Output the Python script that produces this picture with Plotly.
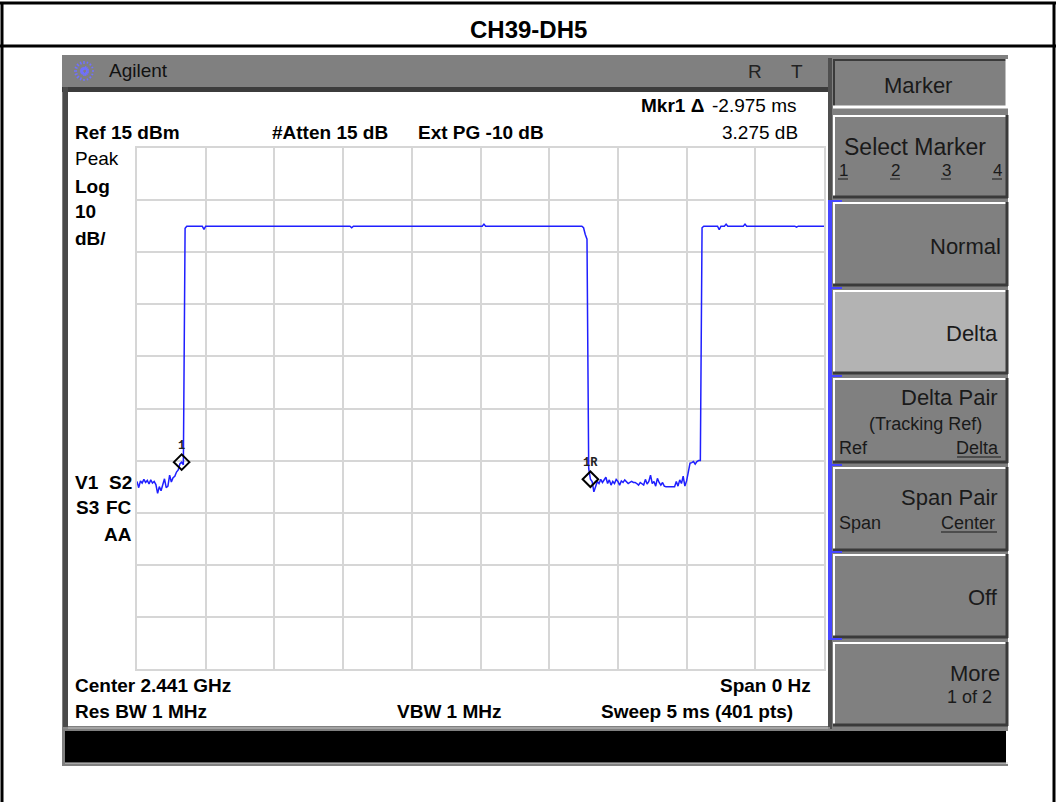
import plotly.graph_objects as go

# ---------------- data ----------------
SWEEP_MS = 5.0            # sweep time
N_PTS = 401               # sweep points
REF_DBM = 15              # reference level (top of graticule)
DB_PER_DIV = 10
N_DIV = 10
STEP_MS = SWEEP_MS / (N_PTS - 1)

# noise floor before the burst (sweep points 0..27)
noise1_start = 0
noise1_dbm = [-49.0, -50.2, -48.9, -49.3, -48.6, -49.2, -48.8, -49.5, -48.7, -49.3,
              -49.0, -49.6, -51.3, -50.0, -50.8, -49.8, -48.5, -50.2, -49.9, -47.8,
              -49.1, -48.3, -48.0, -47.2, -46.8, -45.6, -45.3, -45.8]

# first burst (flat top, ms / dBm)
top1_ms = [0.35, 0.3625, 0.475, 0.4875, 0.5, 1.55, 1.5625, 1.575, 2.5125, 2.525, 2.5375,
           3.2375, 3.25, 3.2625, 3.275, 3.2875]
top1_dbm = [-0.4, 0.0, 0.0, -0.6, 0.0, 0.0, -0.3, 0.0, 0.0, 0.4, 0.0,
            0.0, -0.3, -1.6, -2.5, -46.5]

# noise floor between bursts (sweep points 264..328)
noise2_start = 264
noise2_dbm = [-48.575, -49.0, -51.0, -50.0, -49.0, -49.4, -48.6, -49.2, -48.7, -48.2,
              -49.4, -48.7, -49.7, -49.0, -49.4, -48.6, -49.0, -49.7, -48.9, -49.2,
              -48.7, -49.0, -49.4, -49.2, -49.0, -49.2, -49.2, -49.4, -49.7, -49.2,
              -49.4, -49.7, -48.6, -49.5, -49.0, -47.8, -49.4, -49.0, -49.9, -48.4,
              -49.2, -49.7, -49.2, -49.9, -50.0, -50.0, -50.0, -49.9, -50.0, -50.0,
              -49.0, -49.9, -48.7, -49.4, -48.0, -49.9, -48.9, -47.1, -45.5, -45.4,
              -45.2, -45.7, -45.2, -45.0, -45.0]

# second burst (flat top)
top2_ms = [4.1125, 4.125, 4.225, 4.2375, 4.25, 4.275, 4.2875, 4.3, 4.4125, 4.425, 4.4375,
           4.7875, 4.8, 4.8125, 5.0]
top2_dbm = [-0.3, 0.0, 0.0, -0.7, 0.0, 0.0, 0.4, 0.0, 0.0, 0.4, 0.0,
            0.0, -0.2, 0.0, 0.0]

markers_ms = [0.325, 3.3]
markers_dbm = [-45.3, -48.575]
marker_labels = ["1", "1R"]

title_text = "CH39-DH5"
mkr_label = "Mkr1 Δ"
mkr_time = "-2.975 ms"
mkr_delta = "3.275 dB"
header_texts = ["Ref 15 dBm", "#Atten 15 dB", "Ext PG -10 dB"]
left_texts = ["Log", "10", "dB/"]
footer_left = ["Center 2.441 GHz", "Res BW 1 MHz"]
footer_mid = "VBW 1 MHz"
footer_right = ["Span 0 Hz", "Sweep 5 ms (401 pts)"]

# ---------------- build trace ----------------
t_all, v_all = [], []
for k, v in enumerate(noise1_dbm):
    t_all.append((noise1_start + k) * STEP_MS); v_all.append(v)
t_all += top1_ms; v_all += top1_dbm
for k, v in enumerate(noise2_dbm):
    t_all.append((noise2_start + k) * STEP_MS); v_all.append(v)
t_all += top2_ms; v_all += top2_dbm

W, H = 1056, 802
def px(x): return x / W
def py(y): return 1 - y / H

shapes = []
def rect(x0, y0, x1, y1, fill, line=None, lw=0):
    shapes.append(dict(type="rect", xref="paper", yref="paper", layer="below",
                       x0=px(x0), x1=px(x1), y0=py(y1), y1=py(y0),
                       fillcolor=fill, line=dict(color=line or fill, width=lw)))
def hline(x0, x1, y, color, w, dash="solid"):
    shapes.append(dict(type="line", xref="paper", yref="paper", layer="below",
                       x0=px(x0), x1=px(x1), y0=py(y), y1=py(y),
                       line=dict(color=color, width=w, dash=dash)))
def vline(x, y0, y1, color, w, dash="solid"):
    shapes.append(dict(type="line", xref="paper", yref="paper", layer="below",
                       x0=px(x), x1=px(x), y0=py(y0), y1=py(y1),
                       line=dict(color=color, width=w, dash=dash)))
def seg(x0, y0, x1, y1, color, w, dash="solid"):
    shapes.append(dict(type="line", xref="paper", yref="paper", layer="below",
                       x0=px(x0), x1=px(x1), y0=py(y0), y1=py(y1),
                       line=dict(color=color, width=w, dash=dash)))

# outer report frame
hline(0, 1056, 3, "black", 3)
hline(0, 1056, 46, "black", 3)
vline(2, 2, 802, "black", 3)
vline(1054, 2, 802, "black", 3)

# instrument body
GRAY = "#808080"
rect(62, 55, 1008, 766, GRAY)
rect(62, 87, 830, 92, "#3c3c3c")
rect(63, 87, 68, 729, "#4a4a4a")
rect(68, 92, 828, 726, "white")
rect(828, 58, 832, 729, "#4f4f4f")
hline(63, 830, 728, "#c8c8c8", 1)
# black message bar
rect(65, 731, 1007, 763, "black")
vline(1007, 731, 764, "white", 2)
hline(65, 1008, 763, "#d0d0d0", 1)

# Agilent logo (starburst)
cx, cy, r = 84, 71, 10
for (dx, dy) in [(1, 0), (0, 1), (0.71, 0.71), (0.71, -0.71), (0.92, 0.38), (0.38, 0.92), (0.92, -0.38), (0.38, -0.92)]:
    seg(cx - r * dx, cy - r * dy, cx + r * dx, cy + r * dy, "#7070ff", 1.5, "dot")

# softkeys
def softkey(y0, y1, fill=GRAY, inset=False):
    x0, x1 = 833, 1008
    rect(x0, y0, x1, y1, fill)
    lt, dk = ("#3a3a3a", "white") if inset else ("white", "#3a3a3a")
    hline(x0, x1, y0 + 1, lt, 2)
    vline(x0 + 1, y0, y1, lt, 2)
    hline(x0, x1, y1 - 1, dk, 3)
    vline(x1 - 1, y0, y1, dk, 3)

softkey(59, 108, inset=True)
softkey(115, 198)
softkey(202, 286)
softkey(290, 374, fill="#b3b3b3")
softkey(378, 463)
softkey(467, 551)
softkey(554, 638)
softkey(642, 726)

# blue group bar
BLUE_BAR = "#4646ff"
rect(828, 200, 832, 640, BLUE_BAR)
for yb in [201, 288, 376, 465, 552, 639]:
    hline(828, 842, yb, BLUE_BAR, 2)

# underlines
for xu in [843, 895, 946, 997]:
    hline(xu - 5, xu + 5, 179, "#1a1a1a", 1)
hline(957, 1001, 457, "#1a1a1a", 1)
hline(941, 997, 532, "#1a1a1a", 1)

# ---------------- annotations ----------------
ann = []
SCR = "Liberation Sans, Arial"
SANS = "Liberation Sans, Arial"
def txt(x, y, s, size, anchor="left", family=SCR, color="black", bold=False):
    ann.append(dict(xref="paper", yref="paper", x=px(x), y=py(y), text=(f"<b>{s}</b>" if bold else s),
                    showarrow=False, xanchor=anchor, yanchor="middle",
                    font=dict(family=family, size=size, color=color)))

FS = 19
txt(528, 29, title_text, 24, "center", SANS, bold=True)
txt(107, 71, "Agilent", 19, "left", SANS, "#111111")
txt(755, 72, "R", 19, "center", SANS, "#222222")
txt(797, 72, "T", 19, "center", SANS, "#222222")

txt(639, 106, mkr_label, FS, "left", bold=True)
txt(798, 106, mkr_time, FS, "right")
txt(73, 133, header_texts[0], FS, bold=True)
txt(270, 133, header_texts[1], FS, bold=True)
txt(416, 133, header_texts[2], FS, bold=True)
txt(800, 133, mkr_delta, FS, "right")
txt(73, 158, "Peak", FS)
for s, yy in zip(left_texts, [186, 212, 238]):
    txt(73, yy, s, FS, bold=True)
txt(73, 483, "V1", FS, bold=True)
txt(134, 483, "S2", FS, "right", bold=True)
txt(74, 508, "S3", FS, bold=True)
txt(134, 508, "FC", FS, "right", bold=True)
txt(134, 534, "AA", FS, "right", bold=True)
txt(73, 685, footer_left[0], FS, bold=True)
txt(73, 711, footer_left[1], FS, bold=True)
txt(395, 711, footer_mid, FS, bold=True)
txt(813, 685, footer_right[0], FS, "right", bold=True)
txt(795, 711, footer_right[1], FS, "right", bold=True)

KC = "#1a1a1a"
txt(918, 85, "Marker", 22, "center", SANS, KC)
txt(915, 147, "Select Marker", 23, "center", SANS, KC)
for s, xx in zip(["1", "2", "3", "4"], [843, 895, 946, 997]):
    txt(xx, 170, s, 17, "center", SANS, KC)
txt(1003, 246, "Normal", 22, "right", SANS, KC)
txt(1000, 334, "Delta", 22, "right", SANS, KC)
txt(1000, 397, "Delta Pair", 22, "right", SANS, KC)
txt(925, 424, "(Tracking Ref)", 18, "center", SANS, KC)
txt(837, 448, "Ref", 18, "left", SANS, KC)
txt(1001, 448, "Delta", 18, "right", SANS, KC)
txt(1000, 498, "Span Pair", 22, "right", SANS, KC)
txt(837, 523, "Span", 18, "left", SANS, KC)
txt(997, 523, "Center", 18, "right", SANS, KC)
txt(1000, 597, "Off", 22, "right", SANS, KC)
txt(1002, 673, "More", 22, "right", SANS, KC)
txt(969, 697, "1 of 2", 18, "center", SANS, KC)

# marker labels (data coordinates)
for s, t, v in zip(marker_labels, markers_ms, markers_dbm):
    ann.append(dict(xref="x", yref="y", x=t, y=v, text=f"<b>{s}</b>", showarrow=False,
                    xanchor="center", yanchor="bottom", yshift=7,
                    font=dict(family="Liberation Mono, DejaVu Sans Mono", size=12, color="#222222")))

# ---------------- figure ----------------
fig = go.Figure()
fig.add_trace(go.Scatter(x=t_all, y=v_all, mode="lines",
                         line=dict(color="#1f1fff", width=1.5), hoverinfo="skip"))
fig.add_trace(go.Scatter(x=markers_ms, y=markers_dbm, mode="markers",
                         marker=dict(symbol="diamond-open", size=12, color="black", line=dict(width=2)),
                         hoverinfo="skip"))

bottom_dbm = REF_DBM - N_DIV * DB_PER_DIV
fig.update_layout(
    width=W, height=H, autosize=False,
    margin=dict(l=0, r=0, t=0, b=0),
    paper_bgcolor="white", plot_bgcolor="rgba(0,0,0,0)",
    showlegend=False,
    shapes=shapes, annotations=ann,
    xaxis=dict(domain=[px(137), px(824)], range=[0, SWEEP_MS], tick0=0, dtick=SWEEP_MS / N_DIV,
               showgrid=True, gridcolor="#d6d6d6", gridwidth=2, zeroline=False,
               showline=True, linecolor="#d6d6d6", linewidth=2, mirror=True,
               showticklabels=False, ticks="", fixedrange=True),
    yaxis=dict(domain=[py(669), py(148)], range=[bottom_dbm, REF_DBM], tick0=REF_DBM, dtick=DB_PER_DIV,
               showgrid=True, gridcolor="#d6d6d6", gridwidth=2, zeroline=False,
               showline=True, linecolor="#d6d6d6", linewidth=2, mirror=True,
               showticklabels=False, ticks="", fixedrange=True),
)
fig.write_html("out.html",
               post_script="document.body.style.margin='0';document.body.style.overflow='hidden';",
               config={"displayModeBar": False})
